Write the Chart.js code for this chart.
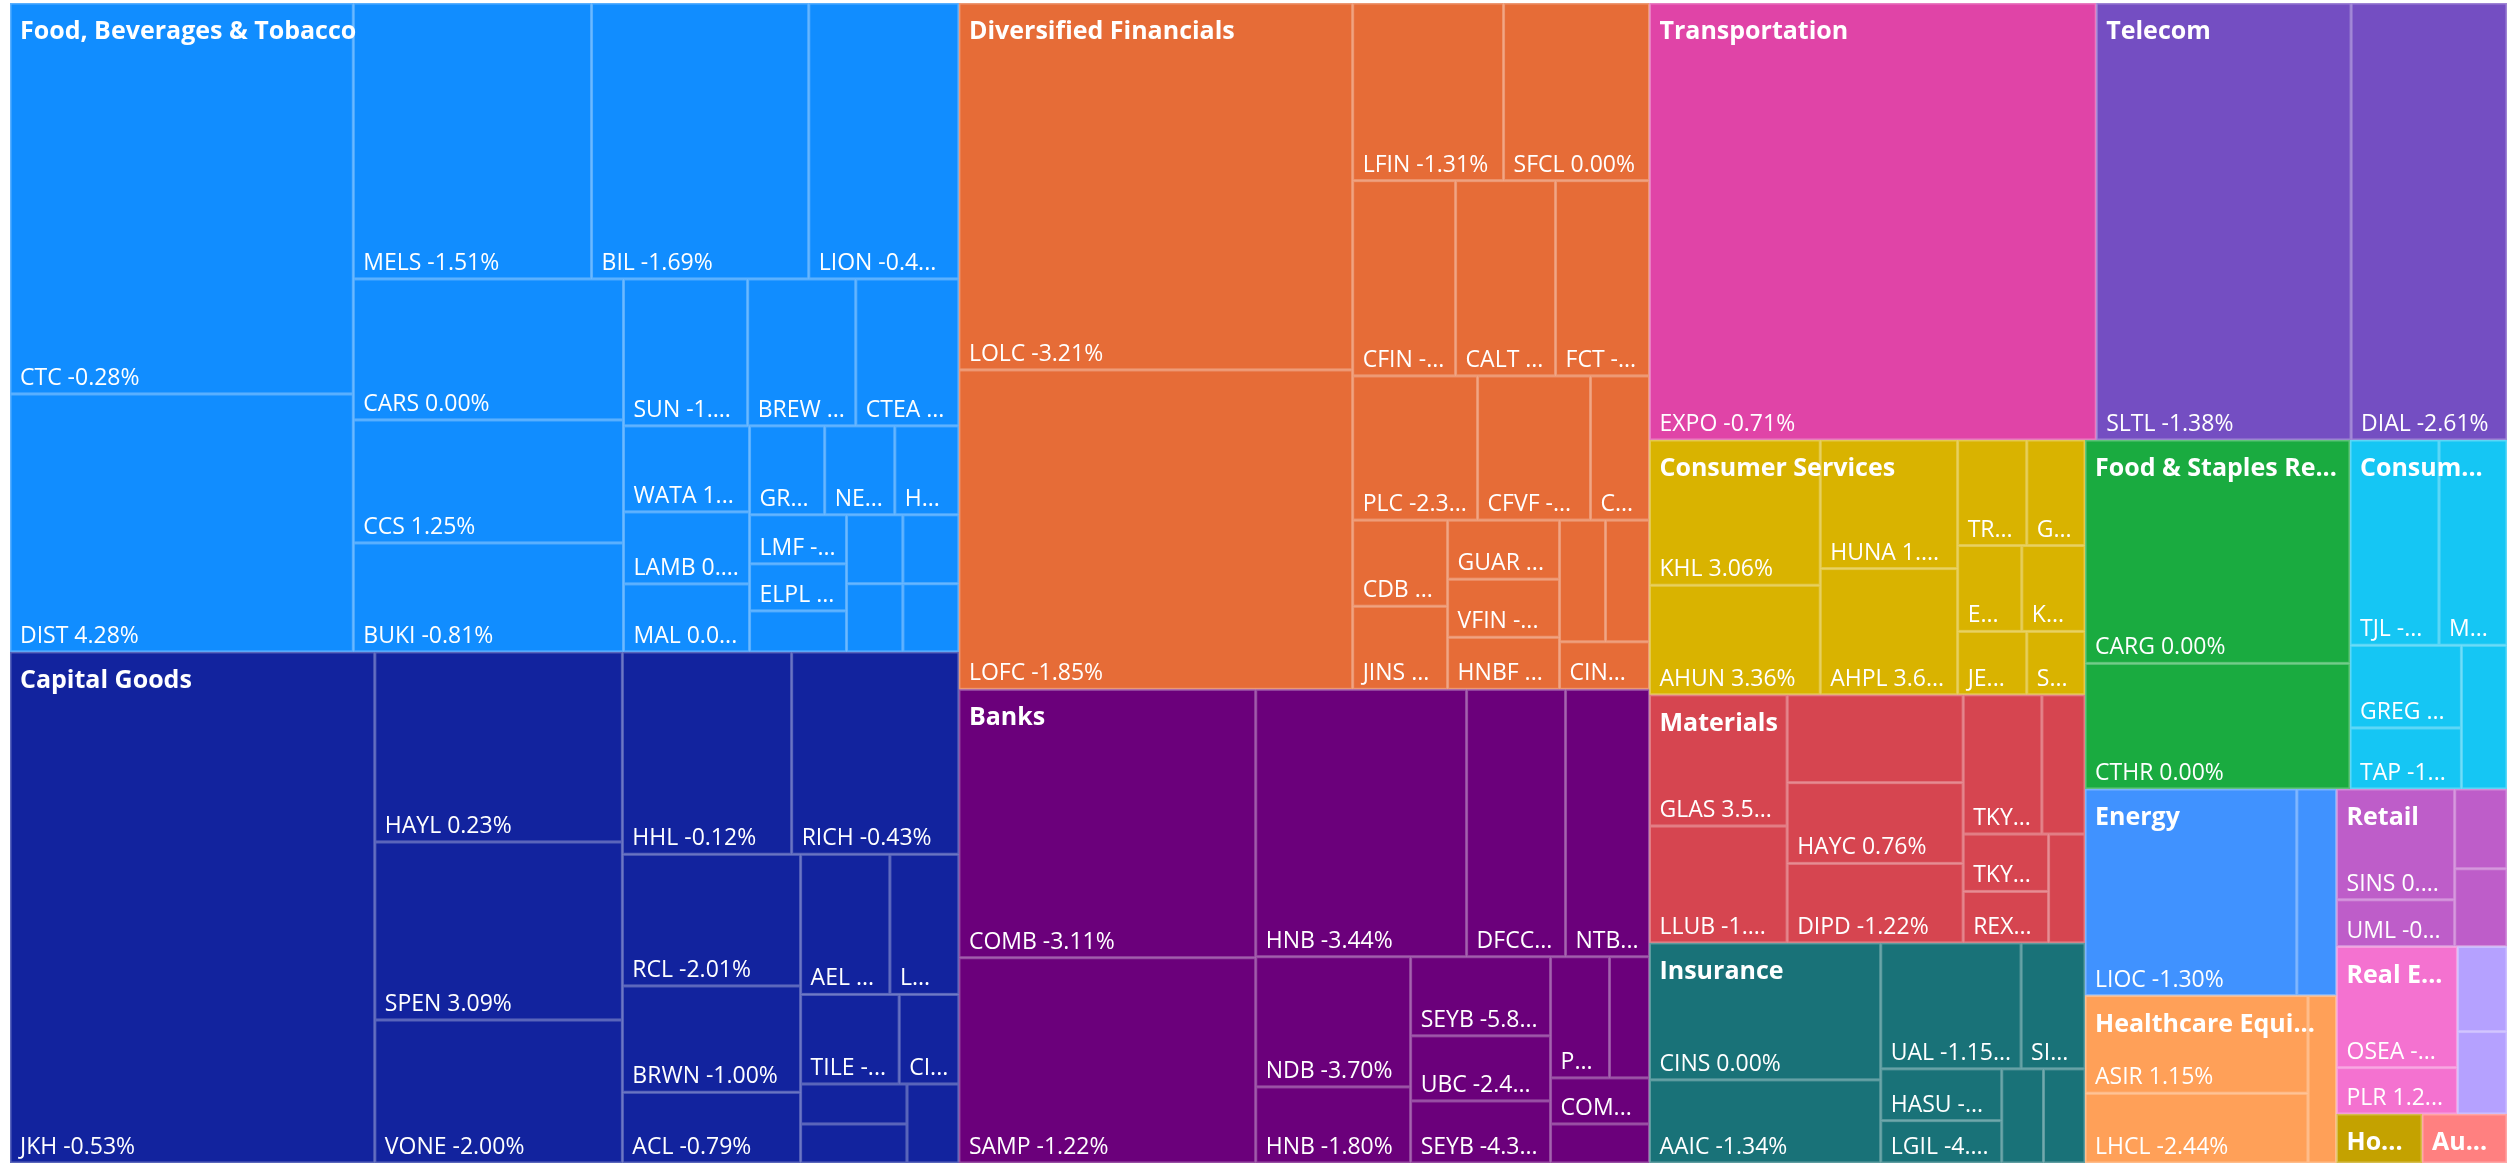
<!DOCTYPE html>
<html>
<head>
<meta charset="utf-8">
<title>Market treemap</title>
<script src="https://cdn.jsdelivr.net/npm/chart.js@4.4.1/dist/chart.umd.min.js"></script>
<style>
  html, body { margin: 0; padding: 0; background: #fff; }
  canvas { display: block; }
</style>
</head>
<body>
<canvas id="chart" width="2515" height="1163"></canvas>
<script>
// sectors (top level of the treemap)
const sectors = [
  'Food, Beverages & Tobacco', 'Capital Goods', 'Diversified Financials', 'Banks',
  'Transportation', 'Telecom', 'Consumer Services', 'Materials', 'Insurance',
  'Food & Staples Retailing', 'Consumer Durables & Apparel', 'Energy',
  'Healthcare Equipment & Services', 'Retail', 'Real Estate', 'Utilities',
  'Household & Personal Products', 'Automobiles & Components'
];
const sectorColors = [
  '#118DFF', '#12239E', '#E66C37', '#6B007B', '#E044A7', '#744EC2', '#D9B300', '#D64550',
  '#197278', '#1AAB40', '#15C6F4', '#4092FF', '#FFA058', '#BE5DC9', '#F472D0', '#B5A1FF',
  '#C4A200', '#FF8080'
];

// stocks: sector index, ticker, % change, weight (size of the cell)
const stockSector = [
  0,0,0,0,0,0,0,0,0,0,0,0,0,0,0,0,0,0,0,0,0,0,0,0,
  1,1,1,1,1,1,1,1,1,1,1,1,1,1,1,1,
  2,2,2,2,2,2,2,2,2,2,2,2,2,2,2,2,2,2,
  3,3,3,3,3,3,3,3,3,3,3,3,3,3,
  4,
  5,5,
  6,6,6,6,6,6,6,6,6,6,
  7,7,7,7,7,7,7,7,7,7,
  8,8,8,8,8,8,8,8,
  9,9,
  10,10,10,10,10,
  11,11,
  12,12,12,
  13,13,13,13,
  14,14,
  15,15,
  16,
  17
];
const stockTicker = [
  'CTC','DIST','MELS','BIL','LION','CARS','CCS','BUKI','SUN','BREW','CTEA','WATA','LAMB','MAL','GRAN','NEST','HPL','LMF','ELPL','','','','','',
  'JKH','HAYL','SPEN','VONE','HHL','RICH','RCL','BRWN','ACL','AEL','LWL','TILE','CIND','','','',
  'LOLC','LOFC','LFIN','SFCL','CFIN','CALT','FCT','PLC','CFVF','CALF','CDB','JINS','GUAR','VFIN','HNBF','','','CINV',
  'COMB','SAMP','HNB','DFCC','NTB','NDB','HNB','SEYB','UBC','SEYB','PABC','','COMB','',
  'EXPO',
  'SLTL','DIAL',
  'KHL','AHUN','HUNA','AHPL','TRAN','GHLL','EDEN','KHC','JETS','SERV',
  'GLAS','LLUB','','HAYC','DIPD','TKYO','','TKYO','REXP','',
  'CINS','AAIC','UAL','SINH','HASU','LGIL','','',
  'CARG','CTHR',
  'TJL','MGT','GREG','TAP','',
  'LIOC','',
  'ASIR','LHCL','',
  'SINS','UML','','',
  'OSEA','PLR',
  '','',
  '',
  ''
];
const stockChange = [
  -0.28, 4.28, -1.51, -1.69, -0.42, 0.00, 1.25, -0.81, -1.18, -0.40, -0.46, 1.35, 0.50, 0.00, -0.62, 0.00, 0.00, -0.73, -0.28, null, null, null, null, null,
  -0.53, 0.23, 3.09, -2.00, -0.12, -0.43, -2.01, -1.00, -0.79, -1.45, -0.66, -0.95, -1.10, null, null, null,
  -3.21, -1.85, -1.31, 0.00, -0.70, 0.00, -1.60, -2.35, -1.27, -2.10, -0.95, 0.00, -0.50, -1.90, -2.00, null, null, -1.30,
  -3.11, -1.22, -3.44, -2.50, -1.65, -3.70, -1.80, -5.85, -2.44, -4.35, -1.20, null, -2.30, null,
  -0.71,
  -1.38, -2.61,
  3.06, 3.36, 1.85, 3.65, 0.00, 0.00, -1.10, 0.00, 0.00, 0.00,
  3.55, -1.85, null, 0.76, -1.22, -0.90, null, -1.50, -0.60, null,
  0.00, -1.34, -1.15, -0.80, -1.90, -4.50, null, null,
  0.00, 0.00,
  -0.70, 0.00, -0.90, -1.40, null,
  -1.30, null,
  1.15, -2.44, null,
  0.40, -0.50, null, null,
  -1.20, 1.25,
  null, null,
  null,
  null
];
const stockWeight = [
  134113, 88494, 65688, 59892, 41400, 38070, 33210, 29430, 18228, 15876, 15141, 10836, 9072, 8568, 6675, 6230, 5696, 4753, 4559, 3977, 3880, 3860, 3840, 3820,
  186311, 47006, 44037, 35378, 34223, 33818, 23453, 18939, 12600, 12500, 9667, 8821, 5346, 4250, 4150, 4100,
  144362, 125686, 26787, 25900, 20085, 19500, 18330, 18000, 16272, 8496, 8170, 7885, 6608, 6496, 5824, 5589, 5346, 4275,
  79596, 60885, 56337, 26433, 22428, 20150, 11780, 11060, 9100, 8680, 7139, 4840, 4554, 3861,
  195071,
  111282, 68078,
  24795, 18690, 17655, 17325, 7294, 6145, 5502, 5425, 4380, 3690,
  18052, 16081, 15453, 14202, 13990, 10953, 6005, 4899, 4395, 3968,
  31646, 19215, 17661, 8045, 6261, 5123, 3929, 3910,
  59148, 33258,
  18254, 13947, 9202, 6795, 6548,
  43716, 8194,
  21765, 15543, 4768,
  13085, 5520, 4168, 4064,
  14629, 5598,
  4216, 4082,
  4190,
  4165
];

const LEAF_FONT = '23px "Open Sans", "Noto Sans", sans-serif';
const GROUP_FONT = 'bold 25px "Open Sans", "Noto Sans", sans-serif';

// squarified layout (golden ratio target, same rule as d3.treemapSquarify)
const PHI = (1 + Math.sqrt(5)) / 2;
function squarify(nodes, x0, y0, x1, y1) {
  let value = nodes.reduce((s, n) => s + n.value, 0);
  let i0 = 0, i1 = 0;
  const n = nodes.length;
  while (i0 < n) {
    const dx = x1 - x0, dy = y1 - y0;
    let sum = nodes[i1++].value;
    let minV = sum, maxV = sum;
    const alpha = Math.max(dy / dx, dx / dy) / (value * PHI);
    let beta = sum * sum * alpha;
    let minRatio = Math.max(maxV / beta, beta / minV);
    for (; i1 < n; ++i1) {
      const v = nodes[i1].value;
      sum += v;
      if (v < minV) minV = v;
      if (v > maxV) maxV = v;
      beta = sum * sum * alpha;
      const r = Math.max(maxV / beta, beta / minV);
      if (r > minRatio) { sum -= v; break; }
      minRatio = r;
    }
    const row = nodes.slice(i0, i1);
    if (dx < dy) {
      const yy = i1 < n ? y0 + dy * sum / value : y1;
      let xx = x0;
      row.forEach(nd => { nd.x0 = xx; xx += dx * nd.value / sum; nd.x1 = xx; nd.y0 = y0; nd.y1 = yy; });
      y0 = yy;
    } else {
      const xx = i1 < n ? x0 + dx * sum / value : x1;
      let yy = y0;
      row.forEach(nd => { nd.y0 = yy; yy += dy * nd.value / sum; nd.y1 = yy; nd.x0 = x0; nd.x1 = xx; });
      x0 = xx;
    }
    value -= sum;
    i0 = i1;
  }
}

function fitText(ctx, text, maxW) {
  if (ctx.measureText(text).width <= maxW) return text;
  let s = text;
  while (s.length > 0 && ctx.measureText(s + '...').width > maxW) s = s.slice(0, -1);
  return s.length ? s + '...' : '';
}

function buildTree() {
  const groups = sectors.map((name, i) => ({ name, color: sectorColors[i], value: 0, children: [] }));
  stockTicker.forEach((t, i) => {
    const g = groups[stockSector[i]];
    const c = stockChange[i];
    const label = t ? (c === null ? t : t + ' ' + c.toFixed(2) + '%') : '';
    g.children.push({ label, value: stockWeight[i] });
    g.value += stockWeight[i];
  });
  groups.sort((a, b) => b.value - a.value);
  groups.forEach(g => g.children.sort((a, b) => b.value - a.value));
  return groups;
}

const treemapPlugin = {
  id: 'treemap',
  afterDatasetsDraw(chart) {
    const xs = chart.scales.x, ys = chart.scales.y, ctx = chart.ctx;
    const groups = buildTree();
    squarify(groups, xs.min, ys.min, xs.max, ys.max);
    groups.forEach(g => squarify(g.children, g.x0, g.y0, g.x1, g.y1));

    const px = v => xs.getPixelForValue(v);
    const py = v => ys.getPixelForValue(v);

    ctx.save();
    groups.forEach(g => {
      g.children.forEach(c => {
        const l = px(c.x0), r = px(c.x1), t = py(c.y0), b = py(c.y1);
        ctx.fillStyle = g.color;
        ctx.fillRect(l, t, r - l, b - t);
        ctx.strokeStyle = 'rgba(255,255,255,0.3)';
        ctx.lineWidth = 1.5;
        ctx.strokeRect(l + 0.75, t + 0.75, r - l - 1.5, b - t - 1.5);
      });
    });

    ctx.fillStyle = '#ffffff';
    ctx.textBaseline = 'alphabetic';
    ctx.textAlign = 'left';
    groups.forEach(g => {
      ctx.font = LEAF_FONT;
      g.children.forEach(c => {
        const l = px(c.x0), r = px(c.x1), t = py(c.y0), b = py(c.y1);
        if (!c.label || r - l < 58 || b - t < 42) return;
        const txt = fitText(ctx, c.label, r - l - 20);
        if (txt) ctx.fillText(txt, l + 10, b - 9);
      });
      const gl = px(g.x0), gr = px(g.x1), gt = py(g.y0);
      if (gr - gl >= 58) {
        ctx.font = GROUP_FONT;
        const txt = fitText(ctx, g.name, gr - gl - 20);
        if (txt) ctx.fillText(txt, gl + 10, gt + 36);
      }
    });
    ctx.restore();
  }
};

new Chart(document.getElementById('chart'), {
  type: 'scatter',
  data: { datasets: [{ label: 'Stocks', data: [], pointRadius: 0 }] },
  options: {
    responsive: false,
    animation: false,
    devicePixelRatio: 1,
    layout: { padding: { left: 10, top: 3, right: 8, bottom: 0 } },
    plugins: { legend: { display: false }, tooltip: { enabled: false } },
    scales: {
      x: { type: 'linear', display: false, min: 0, max: 2497 },
      y: { type: 'linear', display: false, min: 0, max: 1160, reverse: true }
    }
  },
  plugins: [treemapPlugin]
});
</script>
</body>
</html>
